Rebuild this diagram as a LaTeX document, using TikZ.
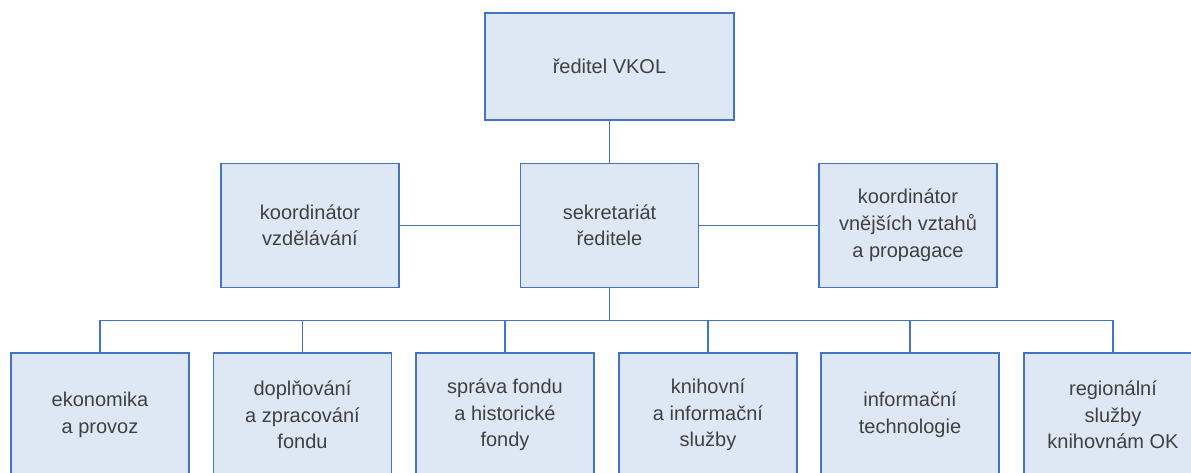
\documentclass[tikz,border=0pt]{standalone}
\usepackage{fontspec}
\setmainfont{Liberation Sans}
\usetikzlibrary{positioning}
\definecolor{boxfill}{HTML}{DEE8F5}
\definecolor{boxline}{HTML}{4472C4}
\definecolor{txt}{HTML}{404040}

\begin{document}
\begin{tikzpicture}[x=0.75pt,y=-0.75pt,
  unit/.style={draw=boxline,fill=boxfill,line width=1pt,align=center,text=txt,
    font=\fontsize{15}{20}\selectfont,inner sep=0pt,
    minimum width=133.5pt,minimum height=93pt},
  link/.style={draw=boxline,line width=0.9pt}]
%%\draw[help lines] (0,0) grid (1191,472);
\useasboundingbox (0,0) rectangle (1191,472);
\clip (0,0) rectangle (1191,472);
\node[unit,minimum width=186.75pt,minimum height=80.25pt] (reditel) at (609.5,66.5) {ředitel VKOL};
\node[unit] (sekretariat) at (609.5,225.3) {sekretariát\\ředitele};
\node[unit] (vzdelavani) at (310,225.3) {koordinátor\\vzdělávání};
\node[unit] (propagace) at (908,225.3) {koordinátor\\vnějších vztahů\\a propagace};
\coordinate (bus) at (609.5,320.7);
\foreach \name/\x/\label in {ekonomika/100/{ekonomika\\a provoz},
    doplnovani/302.5/{doplňování\\a zpracování\\fondu},
    sprava/505/{správa fondu\\a historické\\fondy},
    knihovni/708/{knihovní\\a informační\\služby},
    technologie/910/{informační\\technologie},
    regionalni/1113/{regionální\\služby\\knihovnám OK}}
  \node[unit,minimum height=93pt] (\name) at (\x,415) {\label};
\draw[link] (reditel) -- (sekretariat);
\draw[link] (vzdelavani) -- (sekretariat);
\draw[link] (sekretariat) -- (propagace);
\draw[link] (sekretariat.south) -- (bus);
\foreach \name in {ekonomika,doplnovani,sprava,knihovni,technologie,regionalni}
  \draw[link] (bus) -| (\name.north);
\end{tikzpicture}
\end{document}
